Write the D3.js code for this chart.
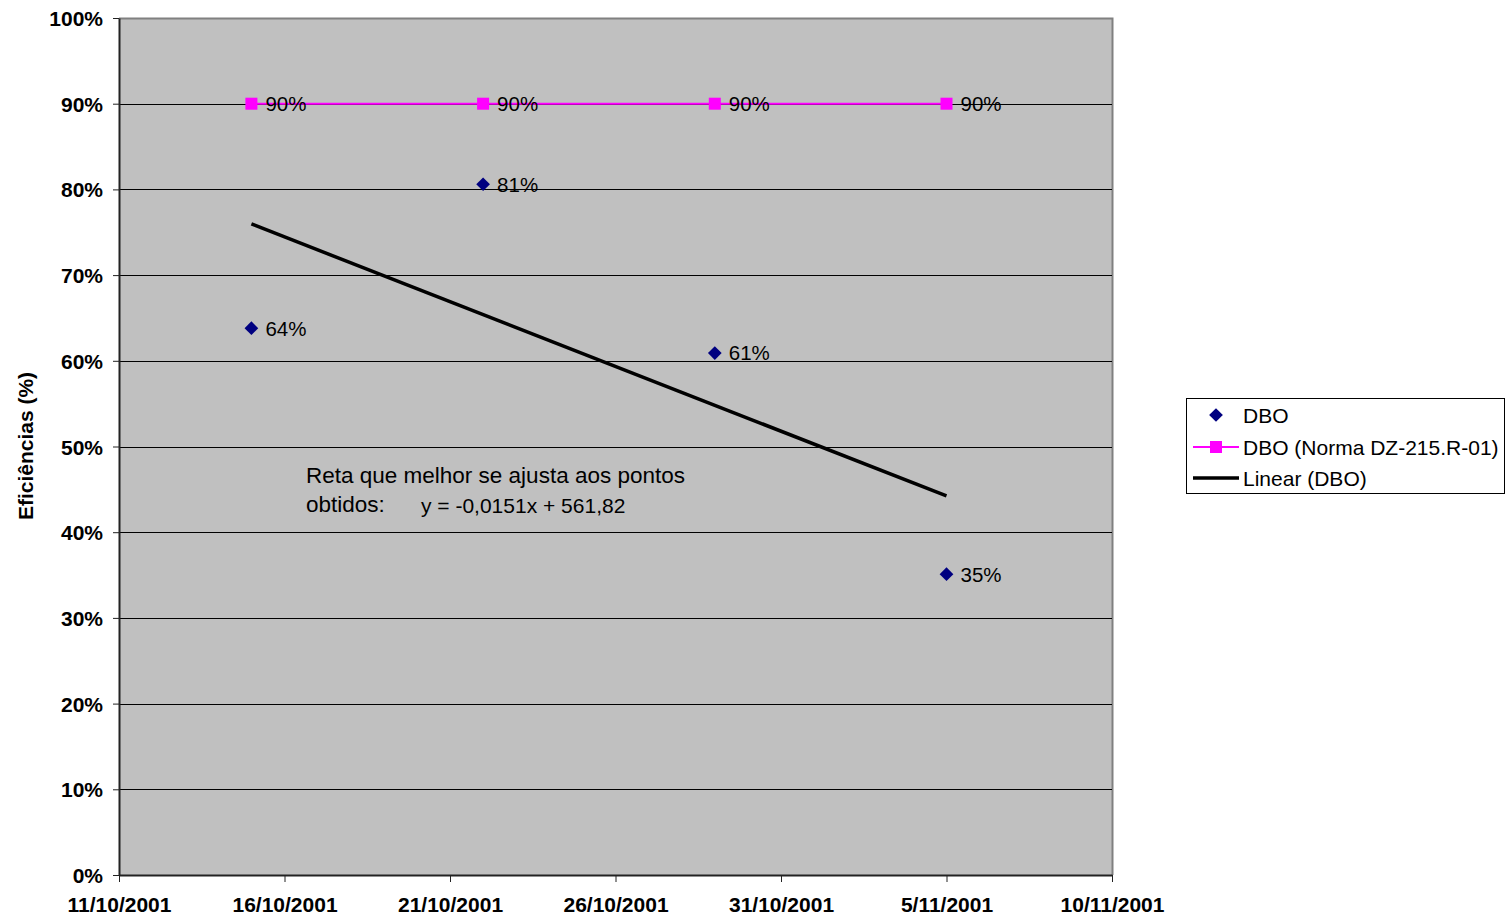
<!DOCTYPE html>
<html>
<head>
<meta charset="utf-8">
<script src="https://cdn.jsdelivr.net/npm/d3@7"></script>
<style>
  html, body { margin: 0; padding: 0; background: #fff; }
  svg { display: block; font-family: "Liberation Sans", Arial, sans-serif; }
</style>
</head>
<body>
<svg id="chart" width="1507" height="919"></svg>
<script>
// Sampling dates (dd/mm/yyyy)
const sampleDates = ["15/10/2001", "22/10/2001", "29/10/2001", "5/11/2001"];
// Measured BOD removal efficiency (fraction)
const dboValues = [0.638, 0.806, 0.609, 0.351];
// Required efficiency per standard DZ-215.R-01
const normaValues = [0.90, 0.90, 0.90, 0.90];
// Axis tick labels
const xTickLabels = ["11/10/2001", "16/10/2001", "21/10/2001", "26/10/2001", "31/10/2001", "5/11/2001", "10/11/2001"];
const yTickValues = [0, 0.1, 0.2, 0.3, 0.4, 0.5, 0.6, 0.7, 0.8, 0.9, 1.0];
const seriesNames = ["DBO", "DBO (Norma DZ-215.R-01)", "Linear (DBO)"];
const equationLines = ["Reta que melhor se ajusta aos pontos", "obtidos:"];
const equationText = "y = -0,0151x + 561,82";

const parseDate = d3.timeParse("%d/%m/%Y");
const dates = sampleDates.map(parseDate);
const xTicks = xTickLabels.map(parseDate);

const svg = d3.select("#chart");
const plot = { left: 119, right: 1112, top: 18, bottom: 875 };

const x = d3.scaleTime()
  .domain([xTicks[0], xTicks[xTicks.length - 1]])
  .range([plot.left, plot.right]);
const y = d3.scaleLinear().domain([0, 1]).range([plot.bottom, plot.top]);

// plot background
svg.append("rect")
  .attr("x", plot.left).attr("y", plot.top)
  .attr("width", plot.right - plot.left).attr("height", plot.bottom - plot.top)
  .attr("fill", "#c0c0c0");

// frame: top and right edges in gray
svg.append("path")
  .attr("d", `M${plot.left},${plot.top + 0.5}H${plot.right + 0.5}V${plot.bottom}`)
  .attr("fill", "none").attr("stroke", "#808080").attr("stroke-width", 2);

// horizontal gridlines
svg.append("g").selectAll("line")
  .data(yTickValues.filter(v => v > 0 && v < 1))
  .join("line")
  .attr("x1", plot.left).attr("x2", plot.right)
  .attr("y1", d => Math.round(y(d)) + 0.5).attr("y2", d => Math.round(y(d)) + 0.5)
  .attr("stroke", "#000").attr("stroke-width", 1);

// y axis
const yAxis = svg.append("g")
  .attr("transform", `translate(${plot.left},0)`)
  .call(d3.axisLeft(y).tickValues(yTickValues).tickFormat(d3.format(".0%")).tickSize(6).tickSizeOuter(0));
yAxis.select(".domain").attr("stroke", "#222").attr("stroke-width", 2);
yAxis.selectAll(".tick line").attr("stroke", "#222");
yAxis.selectAll(".tick text")
  .attr("x", -16).attr("dy", "0.36em")
  .attr("font-size", 21).attr("font-weight", "bold").attr("fill", "#000")
  .attr("font-family", "Liberation Sans, Arial, sans-serif");

// x axis
const xAxis = svg.append("g")
  .attr("transform", `translate(0,${plot.bottom})`)
  .call(d3.axisBottom(x).tickValues(xTicks).tickFormat((d, i) => xTickLabels[i]).tickSize(7).tickSizeOuter(0));
xAxis.select(".domain").attr("stroke", "#222").attr("stroke-width", 2);
xAxis.selectAll(".tick line").attr("stroke", "#222");
xAxis.selectAll(".tick text")
  .attr("y", 22).attr("dy", "0.71em")
  .attr("font-size", 21).attr("font-weight", "bold").attr("fill", "#000")
  .attr("font-family", "Liberation Sans, Arial, sans-serif");

// y axis title
svg.append("text")
  .attr("transform", "translate(33,446) rotate(-90)")
  .attr("text-anchor", "middle")
  .attr("font-size", 21).attr("font-weight", "bold")
  .text("Eficiências (%)");

// least-squares trend of the measured series
const xs = dates.map(d => +d);
const mx = d3.mean(xs), my = d3.mean(dboValues);
const slope = d3.sum(xs, (v, i) => (v - mx) * (dboValues[i] - my)) / d3.sum(xs, v => (v - mx) ** 2);
const intercept = my - slope * mx;
const trend = [dates[0], dates[dates.length - 1]].map(d => ({ d, v: intercept + slope * (+d) }));

// standard line
svg.append("path")
  .datum(dates.map((d, i) => ({ d, v: normaValues[i] })))
  .attr("d", d3.line().x(p => x(p.d)).y(p => y(p.v)))
  .attr("fill", "none").attr("stroke", "#ff00ff").attr("stroke-width", 2);

// trend line
svg.append("path")
  .datum(trend)
  .attr("d", d3.line().x(p => x(p.d)).y(p => y(p.v)))
  .attr("fill", "none").attr("stroke", "#000").attr("stroke-width", 3.5);

// standard markers
svg.append("g").selectAll("rect")
  .data(normaValues)
  .join("rect")
  .attr("x", (v, i) => x(dates[i]) - 6).attr("y", v => y(v) - 6)
  .attr("width", 12).attr("height", 12)
  .attr("fill", "#ff00ff");

// measured markers (diamonds)
const diamond = d3.symbol().type(d3.symbolDiamond2).size(120);
svg.append("g").selectAll("path")
  .data(dboValues)
  .join("path")
  .attr("transform", (v, i) => `translate(${x(dates[i])},${y(v)})`)
  .attr("d", diamond)
  .attr("fill", "#000080");

// data labels
const labelFmt = d3.format(".0%");
function addLabels(values) {
  svg.append("g").selectAll("text")
    .data(values)
    .join("text")
    .attr("x", (v, i) => x(dates[i]) + 14)
    .attr("y", v => y(v))
    .attr("dy", "0.36em")
    .attr("font-size", 20.5).attr("fill", "#000")
    .text(v => labelFmt(v));
}
addLabels(normaValues);
addLabels(dboValues);

// equation annotation
const eq = svg.append("g").attr("fill", "#000");
eq.append("text").attr("x", 306).attr("y", 483).attr("font-size", 22.5).text(equationLines[0]);
eq.append("text").attr("x", 306).attr("y", 512).attr("font-size", 22.5).text(equationLines[1]);
eq.append("text").attr("x", 421).attr("y", 513).attr("font-size", 21).text(equationText);

// legend
const lg = svg.append("g");
lg.append("rect")
  .attr("x", 1186.5).attr("y", 398.5).attr("width", 318).attr("height", 95)
  .attr("fill", "#fff").attr("stroke", "#000").attr("stroke-width", 1);
const rowY = [415, 447, 478];
// row 1: diamond
lg.append("path").attr("transform", `translate(1216,${rowY[0]})`).attr("d", diamond).attr("fill", "#000080");
// row 2: line with square
lg.append("line").attr("x1", 1193).attr("x2", 1239).attr("y1", rowY[1]).attr("y2", rowY[1])
  .attr("stroke", "#ff00ff").attr("stroke-width", 2);
lg.append("rect").attr("x", 1210).attr("y", rowY[1] - 6).attr("width", 12).attr("height", 12).attr("fill", "#ff00ff");
// row 3: thick black line
lg.append("line").attr("x1", 1193).attr("x2", 1239).attr("y1", rowY[2]).attr("y2", rowY[2])
  .attr("stroke", "#000").attr("stroke-width", 3.5);
lg.selectAll("text.lbl")
  .data(seriesNames)
  .join("text")
  .attr("class", "lbl")
  .attr("x", 1243).attr("y", (d, i) => rowY[i]).attr("dy", "0.36em")
  .attr("font-size", 21).attr("fill", "#000")
  .text(d => d);
</script>
</body>
</html>
